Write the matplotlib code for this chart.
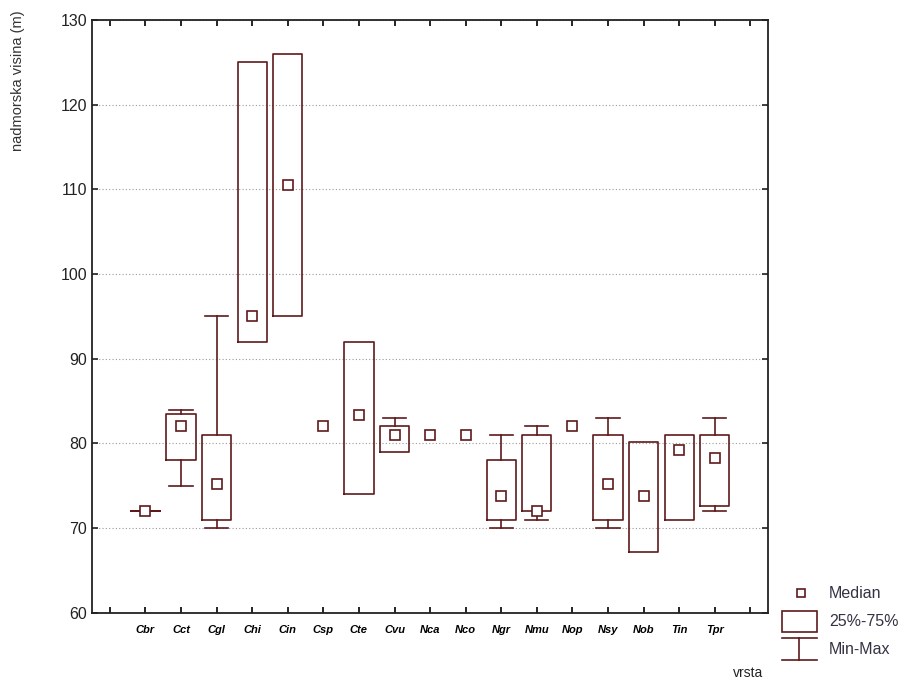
import numpy as np
import matplotlib
matplotlib.use("Agg")
import matplotlib.pyplot as plt
from matplotlib.patches import Rectangle
from matplotlib.lines import Line2D

plt.rcParams['font.family'] = ['Liberation Sans', 'DejaVu Sans']

# values (NaN = only a median is shown)
species = ['Cbr', 'Cct', 'Cgl', 'Chi', 'Cin', 'Csp', 'Cte', 'Cvu', 'Nca',
           'Nco', 'Ngr', 'Nmu', 'Nop', 'Nsy', 'Nob', 'Tin', 'Tpr']
medians = [72, 82, 75.2, 95, 110.5, 82, 83.3, 81, 81, 81, 73.8, 72, 82, 75.2, 73.8, 79.2, 78.3]
q1 = [72, 78, 71, 92, 95, np.nan, 74, 79, np.nan, np.nan, 71, 72, np.nan, 71, 67.2, 71, 72.6]
q3 = [72, 83.5, 81, 125, 126, np.nan, 92, 82, np.nan, np.nan, 78, 81, np.nan, 81, 80.2, 81, 81]
mins = [72, 75, 70, 92, 95, np.nan, 74, 79, np.nan, np.nan, 70, 71, np.nan, 70, 67.2, 71, 72]
maxs = [72, 84, 95, 125, 126, np.nan, 92, 83, np.nan, np.nan, 81, 82, np.nan, 83, 80.2, 81, 83]

col = '#5e1a1a'
positions = np.arange(1, len(species) + 1)

fig = plt.figure(figsize=(9.2, 6.84), dpi=100)
ax = fig.add_axes([0.1, 0.104, 0.735, 0.867])

stats = []
pos_box = []
for i, name in enumerate(species):
    if np.isnan(q1[i]):
        continue
    stats.append(dict(label=name, med=medians[i], q1=q1[i], q3=q3[i],
                      whislo=mins[i], whishi=maxs[i], fliers=[]))
    pos_box.append(positions[i])

bp = ax.bxp(stats, positions=pos_box, widths=0.82, capwidths=0.65,
            showfliers=False, manage_ticks=False,
            boxprops=dict(color=col, linewidth=1.2),
            whiskerprops=dict(color=col, linewidth=1.2),
            capprops=dict(color=col, linewidth=1.2),
            medianprops=dict(visible=False))
# hide caps that sit on the box edge (no whisker there)
for k, s in enumerate(stats):
    if s['whislo'] == s['q1'] and s['q1'] != s['q3']:
        bp['caps'][2 * k].set_visible(False)
    if s['whishi'] == s['q3'] and s['q1'] != s['q3']:
        bp['caps'][2 * k + 1].set_visible(False)

ax.plot(positions, medians, linestyle='none', marker='s', markersize=7,
        markerfacecolor='white', markeredgecolor=col, markeredgewidth=1.2, zorder=5)

ax.set_xlim(-0.5, 18.5)
ax.set_ylim(60, 130)
ax.set_yticks(np.arange(60, 131, 10))
ax.set_xticks(np.arange(0, 19))
ax.set_xticklabels([''] + species + [''], fontsize=8, fontweight='bold', fontstyle='italic')
ax.tick_params(axis='y', labelsize=11.5, colors='#222222')
ax.tick_params(axis='x', pad=9)
ax.tick_params(direction='in', length=4, width=1.2, top=True, right=True)
ax.yaxis.grid(True, linestyle=(0, (1, 2)), color='#999999', linewidth=0.8)
ax.set_axisbelow(True)
for s in ax.spines.values():
    s.set_linewidth(1.3)
    s.set_color('#222222')

fig.text(0.02, 0.985, 'nadmorska visina (m)', rotation=90, va='top', ha='center',
         fontsize=10.5, color='#333333')
fig.text(0.813, 0.016, 'vrsta', ha='center', va='center', fontsize=10, color='#222222')

# legend drawn outside the axes, bottom right
fig.add_artist(Line2D([0.871], [1 - 593 / 684], marker='s', markersize=6,
                      markerfacecolor='white', markeredgecolor=col, markeredgewidth=1.2,
                      transform=fig.transFigure))
fig.text(0.901, 1 - 593 / 684, 'Median', va='center', fontsize=11.5, color='#333344')
fig.add_artist(Rectangle((782 / 920, 1 - 632 / 684), 35 / 920, 21 / 684, fill=False,
                         edgecolor=col, linewidth=1.2, transform=fig.transFigure))
fig.text(0.901, 1 - 621 / 684, '25%-75%', va='center', fontsize=11.5, color='#333344')
xc = 799.5 / 920
fig.add_artist(Line2D([xc, xc], [1 - 638 / 684, 1 - 660 / 684], color=col, linewidth=1.2,
                      transform=fig.transFigure))
fig.add_artist(Line2D([782 / 920, 817 / 920], [1 - 660 / 684] * 2, color=col, linewidth=1.2,
                      transform=fig.transFigure))
fig.add_artist(Line2D([782 / 920, 817 / 920], [1 - 638 / 684] * 2, color=col, linewidth=1.2,
                      transform=fig.transFigure))
fig.text(0.901, 1 - 649 / 684, 'Min-Max', va='center', fontsize=11.5, color='#333344')

fig.savefig('out.png', dpi=100)
